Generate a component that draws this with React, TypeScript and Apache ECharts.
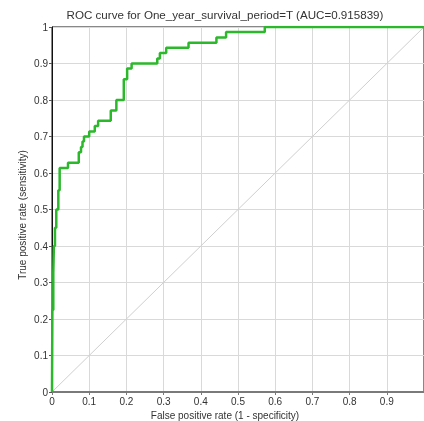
import React, { useEffect, useRef } from "react";
import * as echarts from "echarts";

const titleText = "ROC curve for One_year_survival_period=T (AUC=0.915839)";
const xAxisTitle = "False positive rate (1 - specificity)";
const yAxisTitle = "True positive rate (sensitivity)";

// ROC vertices (false positive rate, true positive rate)
const fpr = [
  0, 0.001, 0.001, 0.0035, 0.0035, 0.005, 0.008, 0.0115, 0.017, 0.0206,
  0.043, 0.072, 0.078, 0.082, 0.086, 0.1, 0.115, 0.124, 0.158, 0.173,
  0.193, 0.202, 0.214, 0.283, 0.29, 0.307, 0.367, 0.442, 0.468, 0.572, 1,
];
const tpr = [
  0, 0, 0.225, 0.225, 0.326, 0.4, 0.45, 0.5, 0.553, 0.614,
  0.628, 0.657, 0.671, 0.686, 0.7, 0.714, 0.729, 0.743, 0.771, 0.8,
  0.857, 0.886, 0.9, 0.914, 0.929, 0.943, 0.957, 0.971, 0.986, 1, 1,
];
const diagonal = [
  [0, 0],
  [1, 1],
];

export default function App() {
  const ref = useRef<HTMLDivElement>(null);
  useEffect(() => {
    if (!ref.current) return;
    const chart = echarts.init(ref.current, undefined, { renderer: "svg" });
    const font = "Arial, 'Liberation Sans', sans-serif";
    const roc = fpr.map((x, i) => [x, tpr[i]]);
    chart.setOption({
      animation: false,
      textStyle: { fontFamily: font },
      grid: {
        left: 52,
        top: 27,
        right: -2,
        bottom: 29,
        show: true,
        borderColor: "#111",
        borderWidth: 1,
        backgroundColor: "transparent",
      },
      graphic: [
        {
          type: "text",
          x: 225,
          y: 14,
          style: {
            text: titleText,
            font: "11.6px " + font,
            fill: "#333",
            textAlign: "center",
            textVerticalAlign: "middle",
          },
        },
        {
          type: "text",
          x: 225,
          y: 415,
          style: {
            text: xAxisTitle,
            font: "10px " + font,
            fill: "#333",
            textAlign: "center",
            textVerticalAlign: "middle",
          },
        },
        {
          type: "text",
          x: 22,
          y: 215,
          rotation: Math.PI / 2,
          style: {
            text: yAxisTitle,
            font: "10px " + font,
            fill: "#333",
            textAlign: "center",
            textVerticalAlign: "middle",
          },
        },
      ],
      xAxis: {
        type: "value",
        min: 0,
        max: 1,
        interval: 0.1,
        axisLine: { show: true, lineStyle: { color: "#7a7a7a", width: 2 } },
        axisTick: { show: true, length: 3, lineStyle: { color: "#7a7a7a" } },
        axisLabel: { fontSize: 10, color: "#333", margin: 4, showMaxLabel: false },
        splitLine: { show: true, lineStyle: { color: "#d9d9d9", width: 1 } },
      },
      yAxis: {
        type: "value",
        min: 0,
        max: 1,
        interval: 0.1,
        axisLine: { show: true, lineStyle: { color: "#111", width: 1 } },
        axisTick: { show: true, length: 3, lineStyle: { color: "#555" } },
        axisLabel: { fontSize: 10, color: "#333", margin: 4 },
        splitLine: { show: true, lineStyle: { color: "#d9d9d9", width: 1 } },
      },
      series: [
        {
          type: "line",
          data: diagonal,
          showSymbol: false,
          lineStyle: { color: "#cfcfcf", width: 1 },
          z: 2,
        },
        {
          type: "line",
          data: roc,
          showSymbol: false,
          step: "end",
          lineStyle: { color: "#2bb82b", width: 2.5 },
          z: 3,
        },
      ],
    });
    return () => chart.dispose();
  }, []);
  return <div ref={ref} style={{ width: 424, height: 421, position: "fixed", left: 0, top: 0 }} />;
}
